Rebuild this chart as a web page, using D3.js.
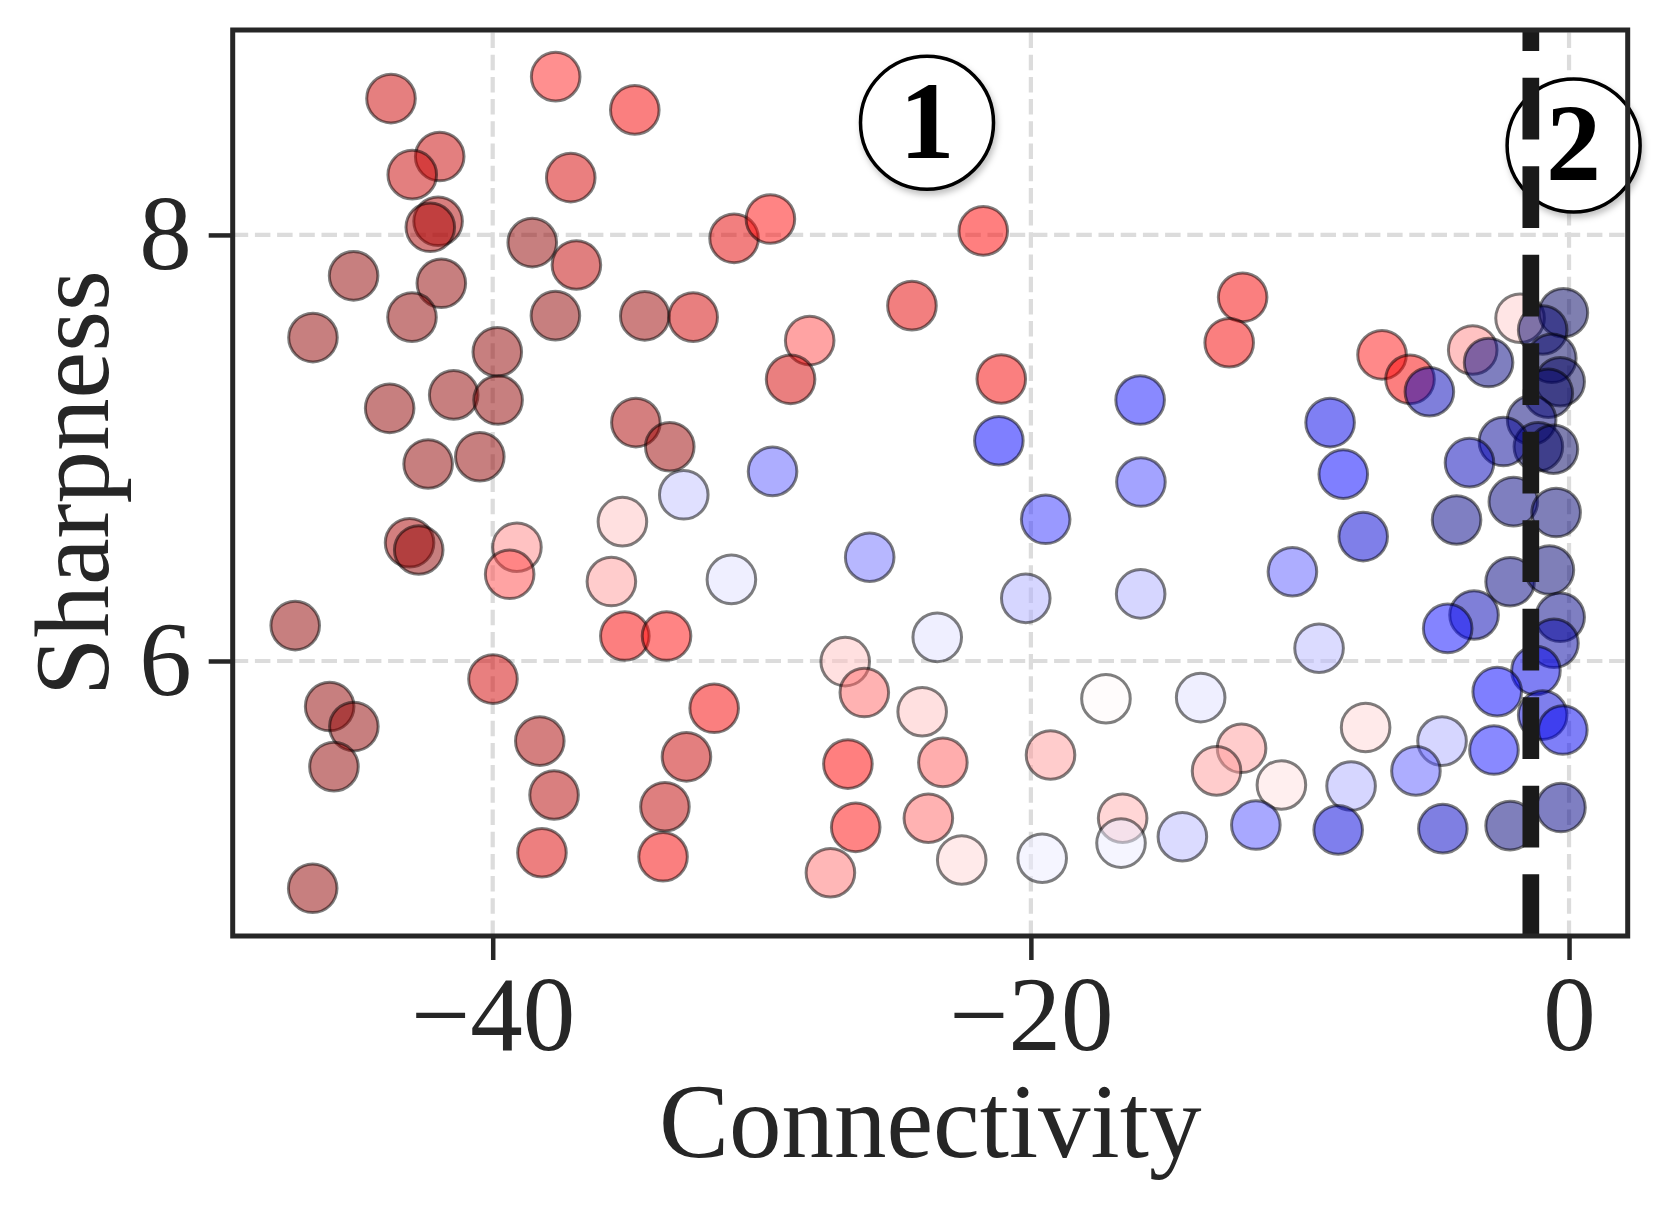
<!DOCTYPE html>
<html>
<head>
<meta charset="utf-8">
<script src="https://cdn.jsdelivr.net/npm/d3@7"></script>
<style>
  html, body { margin: 0; padding: 0; background: #fff; }
  svg { display: block; }
  text { font-family: "Liberation Serif", "Times New Roman", Times, serif; fill: #262626; }
</style>
</head>
<body>
<svg id="chart" width="1657" height="1210"></svg>
<script>
// ---- data ----
const connectivity = [
  -43.78,-37.66,-34.72,-41.97,-42.99,-37.10,-42.03,-42.32,-38.53,-36.89,
  -45.17,-41.91,-43.00,-37.67,-34.35,-46.68,-39.83,-43.83,-41.45,-39.80,
  -34.68,-33.42,-42.40,-40.48,-43.09,-42.75,-39.10,-39.37,-35.18,-35.59,
  -35.09,-33.54,-47.34,-39.99,-46.06,-45.16,-45.90,-38.25,-37.72,-38.17,
  -32.80,-33.60,-33.67,-46.69,-31.03,-29.68,-21.77,-32.55,-24.42,-28.22,
  -28.93,-21.10,-21.19,-15.94,-15.91,-29.60,-32.90,-31.13,-25.99,-19.45,
  -20.19,-15.92,-23.48,-26.90,-26.19,-31.77,-24.04,-17.21,-26.80,-23.27,
  -19.27,-26.51,-23.81,-27.45,-22.57,-19.58,-16.59,-16.65,-12.13,-12.63,
  -6.95,-5.91,-5.19,-3.58,-2.99,-1.82,-0.21,-0.98,-0.64,-0.33,
  -0.77,-1.39,-1.14,-0.58,-2.44,-3.70,-8.88,-8.39,-7.65,-4.18,
  -2.07,-0.48,-10.28,-9.29,-2.19,-0.73,-3.53,-4.51,-0.33,-0.56,
  -1.23,-2.67,-0.98,-0.23,-2.79,-4.72,-5.69,-7.56,-8.10,-8.58,
  -4.69,-2.19,-0.30,-13.69,-12.17,-13.10,-10.69,-11.64,-14.37
];
const sharpness = [
  8.640,8.743,8.587,8.368,8.283,8.269,8.064,8.036,7.964,7.859,
  7.808,7.773,7.614,7.621,7.620,7.518,7.451,7.186,7.249,7.225,
  7.119,7.006,6.925,6.959,6.555,6.521,6.534,6.407,6.654,6.373,
  6.117,6.117,6.166,5.915,5.786,5.692,5.504,5.624,5.371,5.100,
  5.550,5.316,5.081,4.933,7.984,8.075,8.019,7.614,7.668,7.504,
  7.322,7.324,7.034,7.225,6.840,6.890,6.780,6.383,6.487,6.665,
  6.294,6.315,6.111,5.997,5.852,5.778,5.762,5.823,5.516,5.524,
  5.559,5.219,5.262,5.006,5.066,5.074,5.262,5.145,7.707,7.494,
  7.437,7.322,7.264,7.460,7.401,7.609,7.635,7.554,7.421,7.311,
  7.257,7.131,7.006,6.994,7.030,6.931,7.119,6.877,6.584,6.662,
  6.748,6.697,6.419,6.060,6.372,6.427,6.216,6.153,6.205,6.083,
  5.955,5.856,5.746,5.676,5.582,5.624,5.484,5.688,5.413,5.207,
  5.213,5.227,5.312,5.828,5.590,5.484,5.418,5.230,5.175
];
// colour value on a blue(0) - white(0.5) - red(1) diverging scale
const colorValue = [
  0.85,0.72,0.77,0.86,0.86,0.83,0.90,0.92,0.97,0.87,
  0.97,0.97,0.97,0.97,0.95,0.97,0.97,0.97,0.97,0.97,
  0.92,0.95,0.97,0.97,0.92,0.97,0.62,0.68,0.56,0.60,
  0.76,0.74,0.97,0.84,0.97,0.97,0.97,0.92,0.90,0.82,
  0.86,0.88,0.77,0.97,0.80,0.74,0.75,0.84,0.80,0.68,
  0.83,0.77,0.25,0.27,0.32,0.34,0.44,0.47,0.36,0.30,
  0.42,0.42,0.47,0.56,0.65,0.77,0.56,0.505,0.75,0.66,
  0.60,0.74,0.65,0.64,0.54,0.48,0.58,0.48,0.77,0.77,
  0.73,0.76,0.15,0.62,0.07,0.55,0.03,0.04,0.03,0.02,
  0.03,0.06,0.04,0.03,0.10,0.15,0.22,0.25,0.19,0.08,
  0.07,0.05,0.34,0.43,0.07,0.05,0.14,0.26,0.08,0.12,
  0.22,0.25,0.20,0.23,0.27,0.42,0.34,0.54,0.42,0.20,
  0.17,0.06,0.08,0.47,0.60,0.60,0.53,0.33,0.43
];
const xTicks = [-40, -20, 0];
const yTicks = [6, 8];
const thresholdX = -1.42;
const markers = [
  { label: "1", x: -23.86, y: 8.527 },
  { label: "2", x: 0.17, y: 8.42 }
];
const xLabel = "Connectivity";
const yLabel = "Sharpness";

// ---- layout ----
const W = 1657, H = 1210;
const plot = { left: 232.7, right: 1627.7, top: 30, bottom: 936 };
const ink = "#262626";

const svg = d3.select("#chart");
const defs = svg.append("defs");
const shadow = defs.append("filter").attr("id", "shadow")
  .attr("x", "-30%").attr("y", "-30%").attr("width", "160%").attr("height", "160%");
shadow.append("feDropShadow").attr("dx", 2).attr("dy", 4)
  .attr("stdDeviation", 3).attr("flood-color", "#000").attr("flood-opacity", 0.25);

const x = d3.scaleLinear().domain([-49.663, 2.18]).range([plot.left, plot.right]);
const y = d3.scaleLinear().domain([4.709, 8.962]).range([plot.bottom, plot.top]);

const seismic = d3.scaleLinear()
  .domain([0, 0.25, 0.5, 0.75, 1])
  .range(["rgb(0,0,77)", "rgb(0,0,255)", "rgb(255,255,255)", "rgb(255,0,0)", "rgb(128,0,0)"])
  .clamp(true);

// grid
const grid = svg.append("g");
grid.selectAll("line.gx").data(xTicks).join("line")
  .attr("x1", d => x(d)).attr("x2", d => x(d))
  .attr("y1", plot.bottom).attr("y2", plot.top)
  .attr("stroke", "#dcdcdc").attr("stroke-width", 4.2)
  .attr("stroke-dasharray", "15.5,6.7");
grid.selectAll("line.gy").data(yTicks).join("line")
  .attr("y1", d => y(d)).attr("y2", d => y(d))
  .attr("x1", plot.left).attr("x2", plot.right)
  .attr("stroke", "#dcdcdc").attr("stroke-width", 4.2)
  .attr("stroke-dasharray", "15.5,6.7");

// points
const pts = connectivity.map((c, i) => ({ x: c, y: sharpness[i], v: colorValue[i] }));
svg.append("g").selectAll("circle").data(pts).join("circle")
  .attr("cx", d => x(d.x)).attr("cy", d => y(d.y)).attr("r", 24.3)
  .attr("fill", d => seismic(d.v)).attr("fill-opacity", 0.5)
  .attr("stroke", "#000").attr("stroke-opacity", 0.5).attr("stroke-width", 3);

// circled markers
const mk = svg.append("g").selectAll("g").data(markers).join("g")
  .attr("transform", d => `translate(${x(d.x)},${y(d.y)})`);
mk.append("circle").attr("r", 66.5).attr("fill", "#fff")
  .attr("stroke", "#000").attr("stroke-width", 3.5).attr("filter", "url(#shadow)");
mk.append("text").text(d => d.label)
  .attr("text-anchor", "middle").attr("y", 35)
  .style("font-size", "110px").style("font-weight", "bold").style("fill", "#000");

// threshold dashed line (pattern starts at the bottom)
svg.append("line")
  .attr("x1", x(thresholdX)).attr("x2", x(thresholdX))
  .attr("y1", plot.bottom).attr("y2", plot.top)
  .attr("stroke", "#1a1a1a").attr("stroke-width", 16.7)
  .attr("stroke-dasharray", "61.8,26.7");

// frame
svg.append("rect")
  .attr("x", plot.left).attr("y", plot.top)
  .attr("width", plot.right - plot.left).attr("height", plot.bottom - plot.top)
  .attr("fill", "none").attr("stroke", ink).attr("stroke-width", 5);

// axes
const fmt = d => (d < 0 ? "\u2212" + Math.abs(d) : String(d));
const xAxis = svg.append("g").attr("transform", `translate(0,${plot.bottom})`)
  .call(d3.axisBottom(x).tickValues(xTicks).tickSize(24).tickPadding(15).tickFormat(fmt));
const yAxis = svg.append("g").attr("transform", `translate(${plot.left},0)`)
  .call(d3.axisLeft(y).tickValues(yTicks).tickSize(24).tickPadding(17).tickFormat(fmt));
[xAxis, yAxis].forEach(a => {
  a.select(".domain").remove();
  a.selectAll(".tick line").attr("stroke", ink).attr("stroke-width", 4.5);
  a.selectAll(".tick text").style("font-size", "105px")
    .style("font-family", '"Liberation Serif", "Times New Roman", serif').attr("fill", ink);
});

// axis labels
svg.append("text").text(xLabel)
  .attr("x", (plot.left + plot.right) / 2).attr("y", 1157)
  .attr("text-anchor", "middle").style("font-size", "105px");
svg.append("text").text(yLabel)
  .attr("transform", `translate(108,${(plot.top + plot.bottom) / 2}) rotate(-90)`)
  .attr("text-anchor", "middle").style("font-size", "105px");
</script>
</body>
</html>
